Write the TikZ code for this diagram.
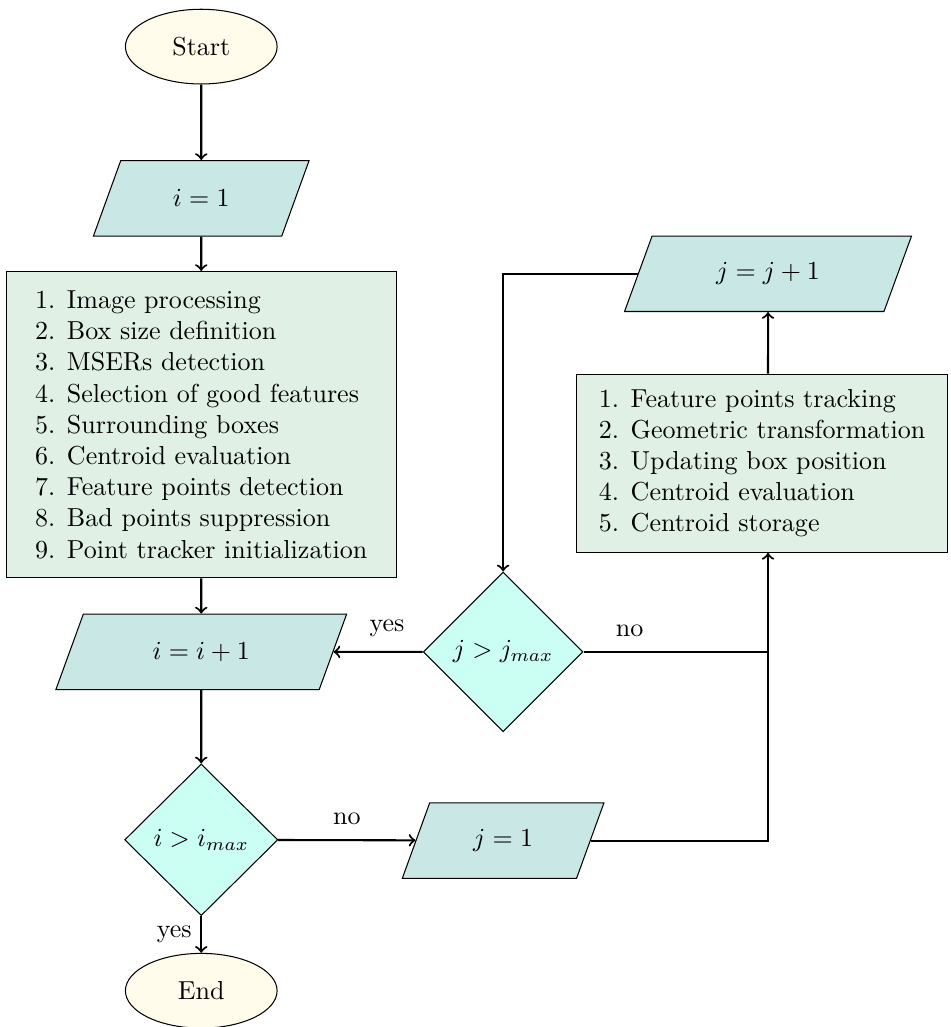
\documentclass[tikz,border=0pt]{standalone}
\usetikzlibrary{shapes.geometric}
\definecolor{creme}{HTML}{FFFCEB}
\definecolor{bleuvert}{HTML}{C9E7E5}
\definecolor{vertpale}{HTML}{E1F0E5}
\definecolor{menthe}{HTML}{CCFFF4}
\begin{document}
\begin{tikzpicture}[
  terminal/.style={ellipse,draw,fill=creme,minimum width=2.05cm,minimum height=1.01cm},
  entree/.style={trapezium,trapezium left angle=70,trapezium right angle=110,trapezium stretches=true,draw,fill=bleuvert,minimum height=1.02cm},
  bloc/.style={rectangle,draw,fill=vertpale,align=left},
  test/.style={diamond,draw,fill=menthe,inner sep=0pt},
  fleche/.style={thick,->}]
\useasboundingbox(0,0)rectangle(12.84,-13.88);
% Boucle sur i
\node[terminal](debut)at(2.72,-0.63){Start};
\node[entree,minimum width=2.92cm](iun)at(2.72,-2.68){$i=1$};
\node[bloc,minimum width=5.27cm,minimum height=4.14cm](init)at(2.72,-5.74){1. Image processing\\2. Box size definition\\3. MSERs detection\\4. Selection of good features\\5. Surrounding boxes\\6. Centroid evaluation\\7. Feature points detection\\8. Bad points suppression\\9. Point tracker initialization};
\node[entree,minimum width=3.95cm](iinc)at(2.72,-8.81){$i=i+1$};
\node[test,minimum width=2.07cm,minimum height=2.05cm](itest)at(2.72,-11.35){$i>i_{max}$};
\node[terminal](fin)at(2.72,-13.39){End};
% Boucle sur j
\node[entree,minimum width=2.73cm](jun)at(6.80,-11.36){$j=1$};
\node[test,minimum width=2.16cm,minimum height=2.16cm](jtest)at(6.80,-8.81){$j>j_{max}$};
\node[bloc,minimum width=5.01cm,minimum height=2.41cm](suivi)at(10.30,-6.26){1. Feature points tracking\\2. Geometric transformation\\3. Updating box position\\4. Centroid evaluation\\5. Centroid storage};
\node[entree,minimum width=3.89cm](jinc)at(10.38,-3.70){$j=j+1$};
\coordinate(jonc)at(10.38,-8.81);
% Liaisons
\draw[fleche](debut)--(iun);
\draw[fleche](iun)--(init);
\draw[fleche](init)--(iinc);
\draw[fleche](iinc)--(itest);
\draw[fleche](itest)--node[left]{yes}(fin);
\draw[fleche](itest)--node[above=2pt]{no}(jun);
\draw[thick](jun)-|(jonc);
\draw[thick](jtest)--node[above=2pt,pos=0.25]{no}(jonc);
\draw[fleche](jonc)--(jonc|-suivi.south);
\draw[fleche](jonc|-suivi.north)--(jinc);
\draw[fleche](jinc)-|(jtest);
\draw[fleche](jtest)--node[above=2pt,pos=0.4]{yes}(iinc);
\end{tikzpicture}
\end{document}
